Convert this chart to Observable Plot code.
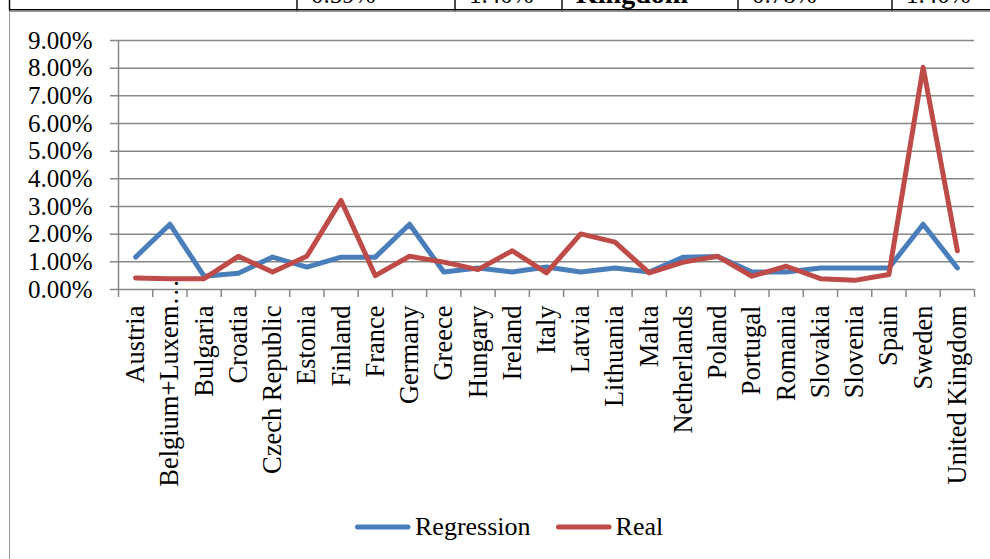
<!DOCTYPE html>
<html>
<head>
<meta charset="utf-8">
<script src="https://cdn.jsdelivr.net/npm/d3@7"></script>
<script src="https://cdn.jsdelivr.net/npm/@observablehq/plot@0.6"></script>
<style>
  html, body { margin: 0; padding: 0; background: #fff; }
  body { width: 990px; height: 559px; overflow: hidden; position: relative; font-family: "Liberation Serif", "Times New Roman", serif; }
  #table-strip { position: absolute; left: 0; top: 0; }
  #frame { position: absolute; left: 8.5px; top: 10.5px; width: 1000px; height: 600px;
           border-left: 1.5px solid #979797; border-top: 1.5px solid #979797; box-sizing: border-box; }
  #chart { position: absolute; left: 0; top: 12px; }
  #legend { position: absolute; left: 0; top: 502px; width: 990px; height: 50px;
            display: flex; align-items: center; padding-left: 355px; box-sizing: border-box;
            font-size: 26px; color: #000; }
  .item { display: flex; align-items: center; margin-right: 25px; }
  .item svg { display: block; margin-right: 4px; }
</style>
</head>
<body>
<svg id="table-strip" width="990" height="12"></svg>
<div id="frame"></div>
<div id="chart"></div>
<div id="legend"></div>
<script>
// Countries along the horizontal axis
const countries = [
  "Austria", "Belgium+Luxembourg", "Bulgaria", "Croatia", "Czech Republic",
  "Estonia", "Finland", "France", "Germany", "Greece", "Hungary", "Ireland",
  "Italy", "Latvia", "Lithuania", "Malta", "Netherlands", "Poland", "Portugal",
  "Romania", "Slovakia", "Slovenia", "Spain", "Sweden", "United Kingdom"
];

// Values in percent
const regression = [
  1.17, 2.36, 0.48, 0.59, 1.17,
  0.81, 1.17, 1.17, 2.36, 0.63, 0.78, 0.63,
  0.81, 0.63, 0.78, 0.63, 1.17, 1.19, 0.63,
  0.63, 0.78, 0.78, 0.78, 2.36, 0.78
];
const real = [
  0.42, 0.39, 0.39, 1.20, 0.63,
  1.20, 3.22, 0.50, 1.20, 0.99, 0.72, 1.40,
  0.60, 2.01, 1.71, 0.60, 0.99, 1.20, 0.48,
  0.84, 0.39, 0.33, 0.54, 8.03, 1.40
];

// Vertical axis ticks (percent)
const yTicks = [0, 1, 2, 3, 4, 5, 6, 7, 8, 9];

// Last row of the table sitting above the chart
const tableCells = ["", "0.59%", "1.40%", "Kingdom", "0.78%", "1.40%"];
const tableBold = [false, false, false, true, false, false];
const tableEdges = [9.5, 297, 455, 562, 738, 892, 1000];

const series = [
  {name: "Regression", key: "regression", color: "#4a7ebb"},
  {name: "Real", key: "real", color: "#be4b48"}
];

const rows = countries.map((country, i) => ({country, i, regression: regression[i], real: real[i]}));
const boundaries = d3.range(countries.length + 1);

// Long names are cut short, the ellipsis running past the label's end
const maxLen = 16;
const shortName = (s) => s.length > maxLen ? s.slice(0, 13) : s;
const truncated = rows.filter(d => d.country.length > maxLen);

const grid = "#878787";
const font = "'Liberation Serif', 'Times New Roman', serif";

const chart = Plot.plot({
  width: 990,
  height: 490,
  marginTop: 28,
  marginRight: 16,
  marginBottom: 213,
  marginLeft: 118,
  style: {background: "transparent", fontFamily: font, fontSize: "26px", color: "#000", overflow: "visible"},
  x: {domain: [0, countries.length], axis: null},
  y: {domain: [0, 9], axis: null},
  marks: [
    Plot.ruleY(yTicks, {y: d => d, stroke: grid, strokeWidth: 1.5, insetLeft: -8}),
    Plot.ruleX([0], {stroke: grid, strokeWidth: 1.5}),
    Plot.ruleX(boundaries, {x: d => d, y1: 0, y2: 0, insetBottom: -8, stroke: grid, strokeWidth: 1.5}),
    Plot.text(yTicks, {x: 0, y: d => d, text: d => d.toFixed(2) + "%", textAnchor: "end", dx: -26, fontSize: 25, fill: "#000"}),
    Plot.text(rows, {x: d => d.i + 0.5, y: 0, text: d => shortName(d.country), rotate: -90, textAnchor: "end", dy: 16, fontSize: 26.5, fill: "#000"}),
    Plot.text(truncated, {x: d => d.i + 0.5, y: 0, text: () => "\u2026", rotate: -90, textAnchor: "start", dy: 16, fontSize: 26.5, fill: "#000"}),
    ...series.map(s => Plot.line(rows, {
      x: d => d.i + 0.5, y: s.key, stroke: s.color, strokeWidth: 5,
      strokeLinecap: "round", strokeLinejoin: "round"
    }))
  ]
});
document.getElementById("chart").appendChild(chart);

// Legend
const legend = d3.select("#legend");
for (const s of series) {
  const item = legend.append("div").attr("class", "item");
  const sw = item.append("svg").attr("width", 56).attr("height", 10);
  sw.append("line").attr("x1", 2.5).attr("x2", 53).attr("y1", 5).attr("y2", 5)
    .attr("stroke", s.color).attr("stroke-width", 5).attr("stroke-linecap", "round");
  item.append("span").text(s.name);
}

// Table fragment above the chart
const strip = d3.select("#table-strip");
strip.append("line").attr("x1", 9).attr("x2", 990).attr("y1", 9.8).attr("y2", 9.8)
  .attr("stroke", "#000").attr("stroke-width", 1.4);
strip.selectAll("line.v").data(tableEdges.slice(0, -1)).join("line")
  .attr("class", "v")
  .attr("x1", d => d).attr("x2", d => d).attr("y1", 0).attr("y2", 10.5)
  .attr("stroke", "#000").attr("stroke-width", 1.4);
strip.selectAll("text").data(tableCells).join("text")
  .attr("x", (d, i) => tableEdges[i] + 14)
  .attr("y", 3.4)
  .attr("font-family", font)
  .attr("font-size", (d, i) => tableBold[i] ? 28 : 25)
  .attr("font-weight", (d, i) => tableBold[i] ? "bold" : "normal")
  .text(d => d);
</script>
</body>
</html>
